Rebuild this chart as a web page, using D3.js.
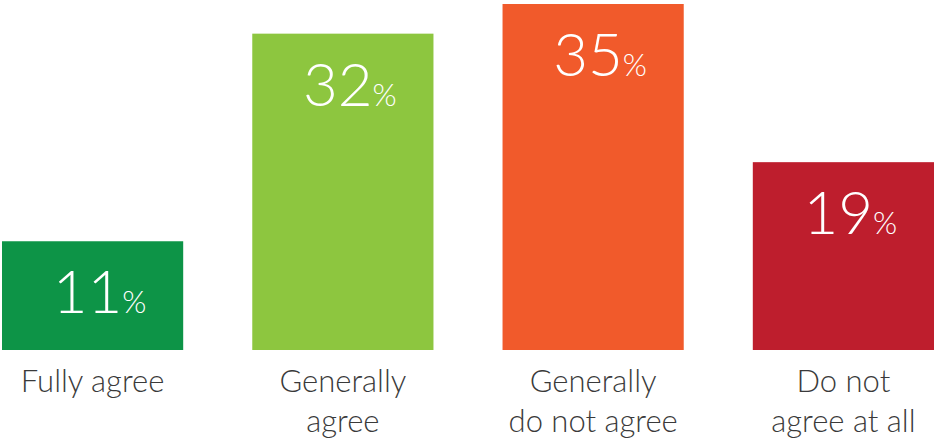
<!DOCTYPE html>
<html>
<head>
<meta charset="utf-8">
<script src="https://cdn.jsdelivr.net/npm/d3@7"></script>
<style>
  html, body { margin: 0; padding: 0; background: #fff; }
  svg { display: block; }
  text { font-family: "Source Sans Pro", Lato, "Open Sans", sans-serif; font-weight: 300; }
</style>
</head>
<body>
<svg id="chart" width="934" height="438"></svg>
<script>
// Survey answers and their shares (%)
const categories = ["Fully agree", "Generally agree", "Generally do not agree", "Do not agree at all"];
const labelLines = [["Fully agree"], ["Generally", "agree"], ["Generally", "do not agree"], ["Do not", "agree at all"]];
const values = [11, 32, 35, 19];
const colors = ["#0d9447", "#8dc63f", "#f15a2b", "#be1e2d"];

const svg = d3.select("#chart");
const W = 934, H = 438;
const baseline = 350;

const x = d3.scaleBand()
  .domain(categories)
  .range([2, W])
  .paddingInner(0.276)
  .paddingOuter(0);

const y = d3.scaleLinear()
  .domain([0, 35])
  .range([baseline, 4]);

const data = categories.map((c, i) => ({ cat: c, value: values[i], color: colors[i], lines: labelLines[i] }));

// Bars
svg.selectAll("rect.bar")
  .data(data)
  .join("rect")
  .attr("class", "bar")
  .attr("x", d => x(d.cat))
  .attr("y", d => y(d.value))
  .attr("width", x.bandwidth())
  .attr("height", d => baseline - y(d.value))
  .attr("fill", d => d.color);

// Value labels inside bars: big number with a smaller percent sign
const vl = svg.selectAll("text.val")
  .data(data)
  .join("text")
  .attr("class", "val")
  .attr("x", d => x(d.cat) + x.bandwidth() / 2 + 7)
  .attr("y", d => y(d.value) + 72)
  .attr("text-anchor", "middle")
  .attr("fill", "#fff");
vl.append("tspan").attr("font-size", 60).text(d => d.value);
vl.append("tspan").attr("font-size", 31).text("%");

// Category labels below bars
const cl = svg.selectAll("text.cat")
  .data(data)
  .join("text")
  .attr("class", "cat")
  .attr("x", d => x(d.cat) + x.bandwidth() / 2)
  .attr("y", 392)
  .attr("text-anchor", "middle")
  .attr("font-size", 31)
  .attr("fill", "#3a3a3a");
cl.selectAll("tspan")
  .data(d => d.lines.map(t => ({ t, cx: x(d.cat) + x.bandwidth() / 2 })))
  .join("tspan")
  .attr("x", d => d.cx)
  .attr("dy", (d, i) => i === 0 ? 0 : 40)
  .text(d => d.t);
</script>
</body>
</html>
